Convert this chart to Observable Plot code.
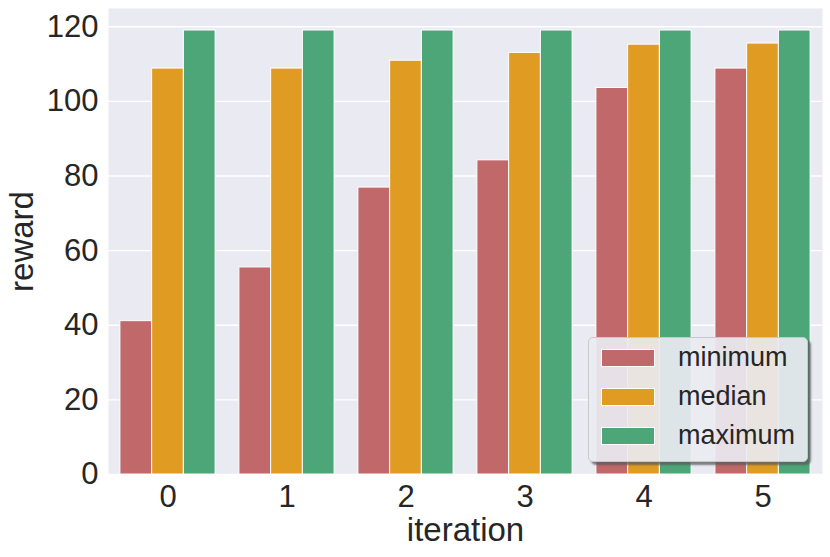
<!DOCTYPE html>
<html>
<head>
<meta charset="utf-8">
<script src="https://cdn.jsdelivr.net/npm/d3@7"></script>
<script src="https://cdn.jsdelivr.net/npm/@observablehq/plot@0.6"></script>
<style>
  html, body { margin: 0; padding: 0; background: #fff; }
  #wrap { position: relative; width: 830px; height: 557px; font-family: "Liberation Sans", Arial, sans-serif; }
  #legend {
    position: absolute; left: 588px; top: 337px; width: 220px; height: 125px;
    box-sizing: border-box; background: rgba(234,234,242,0.92);
    border: 1px solid #c8c8cc; border-radius: 5px;
    box-shadow: 3px 3px 2px rgba(90,90,90,0.75);
  }
  .row { position: absolute; left: 0; height: 18px; }
  .sw { position: absolute; left: 12px; width: 54px; height: 18px; box-sizing: border-box; border: 1px solid #fff; }
  .lab { position: absolute; left: 89px; top: -7px; font-size: 27px; color: #262626; white-space: nowrap; line-height: 30px; }
</style>
</head>
<body>
<div id="wrap"></div>
<script>
const iterations = [0, 1, 2, 3, 4, 5];
const seriesNames = ["minimum", "median", "maximum"];
const minimum = [41.1, 55.5, 76.9, 84.2, 103.6, 108.8];
const median  = [108.8, 108.8, 110.9, 113.0, 115.2, 115.5];
const maximum = [119.0, 119.0, 119.0, 119.0, 119.0, 119.0];
const colors = ["#C0686A", "#DF9B22", "#4CA677"];
const yTicks = [0, 20, 40, 60, 80, 100, 120];

const seriesValues = [minimum, median, maximum];
const groupWidth = 0.8;
const barW = groupWidth / seriesNames.length;
const data = [];
seriesNames.forEach((s, si) => {
  iterations.forEach((it, i) => {
    const x1 = it - groupWidth / 2 + si * barW;
    data.push({iteration: it, series: s, value: seriesValues[si][i], x1, x2: x1 + barW});
  });
});

const chart = Plot.plot({
  width: 830,
  height: 557,
  marginLeft: 108,
  marginRight: 8,
  marginTop: 8,
  marginBottom: 83,
  style: {fontFamily: "'Liberation Sans', Arial, sans-serif", color: "#262626", background: "#fff"},
  x: {domain: [-0.5, 5.5]},
  y: {domain: [0, 124.9]},
  color: {domain: seriesNames, range: colors},
  marks: [
    Plot.frame({fill: "#EAEAF2", stroke: null}),
    Plot.gridY(yTicks, {stroke: "#fff", strokeOpacity: 1, strokeWidth: 1.4}),
    Plot.rectY(data, {x1: "x1", x2: "x2", y: "value", fill: "series", stroke: "#fff", strokeWidth: 1}),
    Plot.axisY(yTicks, {tickSize: 0, tickPadding: 10, fontSize: 31, tickFormat: d3.format("d"), label: null}),
    Plot.axisX(iterations, {tickSize: 0, tickPadding: 10, fontSize: 31, tickFormat: d3.format("d"), label: null}),
    Plot.text(["reward"], {frameAnchor: "left", textAnchor: "middle", lineAnchor: "middle", rotate: -90, dx: -86, fontSize: 33, fill: "#262626"}),
    Plot.text(["iteration"], {frameAnchor: "bottom", textAnchor: "middle", lineAnchor: "middle", dy: 56, fontSize: 33, fill: "#262626"})
  ]
});
document.getElementById("wrap").appendChild(chart);

const legend = document.createElement("div");
legend.id = "legend";
seriesNames.forEach((s, i) => {
  const row = document.createElement("div");
  row.className = "row";
  row.style.top = (11 + i * 39) + "px";
  row.innerHTML = `<div class="sw" style="background:${colors[i]}"></div><div class="lab">${s}</div>`;
  legend.appendChild(row);
});
document.getElementById("wrap").appendChild(legend);
</script>
</body>
</html>
